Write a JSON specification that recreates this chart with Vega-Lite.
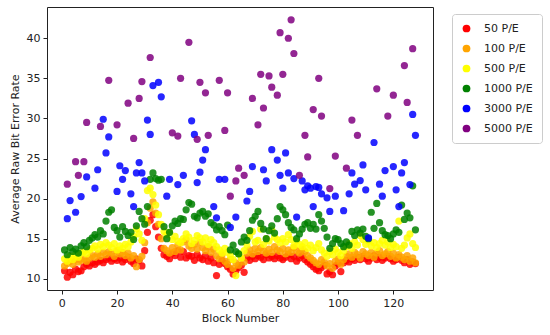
{
"$schema":"https://vega.github.io/schema/vega-lite/v6.json",
"width":386,"height":283,
"autosize":{"type":"none"},
"padding":{"left":47,"top":7,"right":117,"bottom":45},
"background":"white",
"config":{"font":"DejaVu Sans","view":{"stroke":"#222","strokeWidth":1}},
"datasets":{"r":[
{"b":1,"s":"50 P/E","v":11.0},{"b":2,"s":"50 P/E","v":10.2},{"b":3,"s":"50 P/E","v":10.8},{"b":4,"s":"50 P/E","v":10.5},{"b":5,"s":"50 P/E","v":11.2},{"b":6,"s":"50 P/E","v":10.9},{"b":7,"s":"50 P/E","v":11.0},{"b":8,"s":"50 P/E","v":11.5},{"b":9,"s":"50 P/E","v":11.8},{"b":10,"s":"50 P/E","v":11.6},
{"b":11,"s":"50 P/E","v":12.0},{"b":12,"s":"50 P/E","v":11.8},{"b":13,"s":"50 P/E","v":12.1},{"b":14,"s":"50 P/E","v":12.3},{"b":15,"s":"50 P/E","v":12.0},{"b":16,"s":"50 P/E","v":12.4},{"b":17,"s":"50 P/E","v":12.6},{"b":18,"s":"50 P/E","v":12.2},{"b":19,"s":"50 P/E","v":12.5},{"b":20,"s":"50 P/E","v":12.3},
{"b":21,"s":"50 P/E","v":12.6},{"b":22,"s":"50 P/E","v":12.1},{"b":23,"s":"50 P/E","v":12.4},{"b":24,"s":"50 P/E","v":12.7},{"b":25,"s":"50 P/E","v":12.2},{"b":26,"s":"50 P/E","v":11.9},{"b":27,"s":"50 P/E","v":12.5},{"b":28,"s":"50 P/E","v":12.3},{"b":29,"s":"50 P/E","v":11.6},{"b":30,"s":"50 P/E","v":13.5},
{"b":31,"s":"50 P/E","v":15.8},{"b":32,"s":"50 P/E","v":17.3},{"b":33,"s":"50 P/E","v":18.0},{"b":34,"s":"50 P/E","v":16.5},{"b":35,"s":"50 P/E","v":15.2},{"b":36,"s":"50 P/E","v":13.8},{"b":37,"s":"50 P/E","v":13.0},{"b":38,"s":"50 P/E","v":12.8},{"b":39,"s":"50 P/E","v":12.5},{"b":40,"s":"50 P/E","v":13.2},
{"b":41,"s":"50 P/E","v":12.9},{"b":42,"s":"50 P/E","v":13.5},{"b":43,"s":"50 P/E","v":12.7},{"b":44,"s":"50 P/E","v":13.4},{"b":45,"s":"50 P/E","v":12.6},{"b":46,"s":"50 P/E","v":12.9},{"b":47,"s":"50 P/E","v":12.8},{"b":48,"s":"50 P/E","v":12.3},{"b":49,"s":"50 P/E","v":13.0},{"b":50,"s":"50 P/E","v":12.6},
{"b":51,"s":"50 P/E","v":12.4},{"b":52,"s":"50 P/E","v":12.9},{"b":53,"s":"50 P/E","v":12.2},{"b":54,"s":"50 P/E","v":12.6},{"b":55,"s":"50 P/E","v":12.0},{"b":56,"s":"50 P/E","v":10.4},{"b":57,"s":"50 P/E","v":11.8},{"b":58,"s":"50 P/E","v":12.3},{"b":59,"s":"50 P/E","v":11.9},{"b":60,"s":"50 P/E","v":11.5},
{"b":61,"s":"50 P/E","v":11.2},{"b":62,"s":"50 P/E","v":10.6},{"b":63,"s":"50 P/E","v":11.0},{"b":64,"s":"50 P/E","v":11.4},{"b":65,"s":"50 P/E","v":11.7},{"b":66,"s":"50 P/E","v":10.8},{"b":67,"s":"50 P/E","v":12.6},{"b":68,"s":"50 P/E","v":12.3},{"b":69,"s":"50 P/E","v":12.8},{"b":70,"s":"50 P/E","v":12.5},
{"b":71,"s":"50 P/E","v":12.9},{"b":72,"s":"50 P/E","v":12.7},{"b":73,"s":"50 P/E","v":12.4},{"b":74,"s":"50 P/E","v":13.0},{"b":75,"s":"50 P/E","v":12.6},{"b":76,"s":"50 P/E","v":12.8},{"b":77,"s":"50 P/E","v":12.5},{"b":78,"s":"50 P/E","v":12.9},{"b":79,"s":"50 P/E","v":12.6},{"b":80,"s":"50 P/E","v":12.4},
{"b":81,"s":"50 P/E","v":12.7},{"b":82,"s":"50 P/E","v":13.0},{"b":83,"s":"50 P/E","v":12.5},{"b":84,"s":"50 P/E","v":12.8},{"b":85,"s":"50 P/E","v":12.2},{"b":86,"s":"50 P/E","v":12.6},{"b":87,"s":"50 P/E","v":12.9},{"b":88,"s":"50 P/E","v":12.4},{"b":89,"s":"50 P/E","v":12.1},{"b":90,"s":"50 P/E","v":11.8},
{"b":91,"s":"50 P/E","v":11.5},{"b":92,"s":"50 P/E","v":11.2},{"b":93,"s":"50 P/E","v":11.0},{"b":94,"s":"50 P/E","v":11.4},{"b":95,"s":"50 P/E","v":11.7},{"b":96,"s":"50 P/E","v":10.6},{"b":97,"s":"50 P/E","v":10.9},{"b":98,"s":"50 P/E","v":10.5},{"b":99,"s":"50 P/E","v":11.6},{"b":100,"s":"50 P/E","v":11.9},
{"b":101,"s":"50 P/E","v":10.9},{"b":102,"s":"50 P/E","v":12.0},{"b":103,"s":"50 P/E","v":12.3},{"b":104,"s":"50 P/E","v":12.1},{"b":105,"s":"50 P/E","v":12.5},{"b":106,"s":"50 P/E","v":12.3},{"b":107,"s":"50 P/E","v":12.7},{"b":108,"s":"50 P/E","v":12.4},{"b":109,"s":"50 P/E","v":12.8},{"b":110,"s":"50 P/E","v":12.5},
{"b":111,"s":"50 P/E","v":12.2},{"b":112,"s":"50 P/E","v":12.6},{"b":113,"s":"50 P/E","v":12.9},{"b":114,"s":"50 P/E","v":12.4},{"b":115,"s":"50 P/E","v":12.7},{"b":116,"s":"50 P/E","v":12.3},{"b":117,"s":"50 P/E","v":12.6},{"b":118,"s":"50 P/E","v":12.8},{"b":119,"s":"50 P/E","v":12.5},{"b":120,"s":"50 P/E","v":12.2},
{"b":121,"s":"50 P/E","v":12.4},{"b":122,"s":"50 P/E","v":12.7},{"b":123,"s":"50 P/E","v":12.3},{"b":124,"s":"50 P/E","v":12.0},{"b":125,"s":"50 P/E","v":12.4},{"b":126,"s":"50 P/E","v":11.8},{"b":127,"s":"50 P/E","v":12.1},{"b":128,"s":"50 P/E","v":11.9},
{"b":1,"s":"100 P/E","v":11.6},{"b":2,"s":"100 P/E","v":11.9},{"b":3,"s":"100 P/E","v":12.2},{"b":4,"s":"100 P/E","v":11.8},{"b":5,"s":"100 P/E","v":12.4},{"b":6,"s":"100 P/E","v":12.1},{"b":7,"s":"100 P/E","v":12.3},{"b":8,"s":"100 P/E","v":12.5},{"b":9,"s":"100 P/E","v":12.2},{"b":10,"s":"100 P/E","v":12.6},
{"b":11,"s":"100 P/E","v":12.9},{"b":12,"s":"100 P/E","v":12.7},{"b":13,"s":"100 P/E","v":13.1},{"b":14,"s":"100 P/E","v":12.8},{"b":15,"s":"100 P/E","v":13.3},{"b":16,"s":"100 P/E","v":13.0},{"b":17,"s":"100 P/E","v":13.4},{"b":18,"s":"100 P/E","v":13.2},{"b":19,"s":"100 P/E","v":12.8},{"b":20,"s":"100 P/E","v":13.5},
{"b":21,"s":"100 P/E","v":13.1},{"b":22,"s":"100 P/E","v":13.3},{"b":23,"s":"100 P/E","v":12.9},{"b":24,"s":"100 P/E","v":13.2},{"b":25,"s":"100 P/E","v":12.6},{"b":26,"s":"100 P/E","v":12.9},{"b":27,"s":"100 P/E","v":11.5},{"b":28,"s":"100 P/E","v":12.4},{"b":29,"s":"100 P/E","v":12.8},{"b":30,"s":"100 P/E","v":14.5},
{"b":31,"s":"100 P/E","v":17.0},{"b":32,"s":"100 P/E","v":18.8},{"b":33,"s":"100 P/E","v":19.6},{"b":34,"s":"100 P/E","v":18.2},{"b":35,"s":"100 P/E","v":16.8},{"b":36,"s":"100 P/E","v":15.0},{"b":37,"s":"100 P/E","v":13.8},{"b":38,"s":"100 P/E","v":13.5},{"b":39,"s":"100 P/E","v":13.2},{"b":40,"s":"100 P/E","v":13.9},
{"b":41,"s":"100 P/E","v":13.4},{"b":42,"s":"100 P/E","v":14.2},{"b":43,"s":"100 P/E","v":13.6},{"b":44,"s":"100 P/E","v":14.6},{"b":45,"s":"100 P/E","v":14.9},{"b":46,"s":"100 P/E","v":14.1},{"b":47,"s":"100 P/E","v":13.8},{"b":48,"s":"100 P/E","v":14.3},{"b":49,"s":"100 P/E","v":13.7},{"b":50,"s":"100 P/E","v":14.5},
{"b":51,"s":"100 P/E","v":13.9},{"b":52,"s":"100 P/E","v":13.5},{"b":53,"s":"100 P/E","v":14.0},{"b":54,"s":"100 P/E","v":13.3},{"b":55,"s":"100 P/E","v":13.7},{"b":56,"s":"100 P/E","v":12.9},{"b":57,"s":"100 P/E","v":12.5},{"b":58,"s":"100 P/E","v":13.0},{"b":59,"s":"100 P/E","v":12.2},{"b":60,"s":"100 P/E","v":11.8},
{"b":61,"s":"100 P/E","v":12.4},{"b":62,"s":"100 P/E","v":11.3},{"b":63,"s":"100 P/E","v":12.0},{"b":64,"s":"100 P/E","v":11.7},{"b":65,"s":"100 P/E","v":12.6},{"b":66,"s":"100 P/E","v":12.1},{"b":67,"s":"100 P/E","v":13.2},{"b":68,"s":"100 P/E","v":13.6},{"b":69,"s":"100 P/E","v":13.1},{"b":70,"s":"100 P/E","v":13.8},
{"b":71,"s":"100 P/E","v":13.4},{"b":72,"s":"100 P/E","v":13.9},{"b":73,"s":"100 P/E","v":13.5},{"b":74,"s":"100 P/E","v":13.2},{"b":75,"s":"100 P/E","v":13.7},{"b":76,"s":"100 P/E","v":13.3},{"b":77,"s":"100 P/E","v":14.0},{"b":78,"s":"100 P/E","v":13.6},{"b":79,"s":"100 P/E","v":13.4},{"b":80,"s":"100 P/E","v":13.8},
{"b":81,"s":"100 P/E","v":13.1},{"b":82,"s":"100 P/E","v":13.6},{"b":83,"s":"100 P/E","v":13.3},{"b":84,"s":"100 P/E","v":13.9},{"b":85,"s":"100 P/E","v":13.5},{"b":86,"s":"100 P/E","v":13.2},{"b":87,"s":"100 P/E","v":13.7},{"b":88,"s":"100 P/E","v":13.4},{"b":89,"s":"100 P/E","v":12.9},{"b":90,"s":"100 P/E","v":12.6},
{"b":91,"s":"100 P/E","v":12.3},{"b":92,"s":"100 P/E","v":12.0},{"b":93,"s":"100 P/E","v":11.8},{"b":94,"s":"100 P/E","v":12.4},{"b":95,"s":"100 P/E","v":12.1},{"b":96,"s":"100 P/E","v":11.6},{"b":97,"s":"100 P/E","v":11.9},{"b":98,"s":"100 P/E","v":11.3},{"b":99,"s":"100 P/E","v":12.2},{"b":100,"s":"100 P/E","v":12.5},
{"b":101,"s":"100 P/E","v":11.8},{"b":102,"s":"100 P/E","v":12.4},{"b":103,"s":"100 P/E","v":12.8},{"b":104,"s":"100 P/E","v":13.1},{"b":105,"s":"100 P/E","v":12.7},{"b":106,"s":"100 P/E","v":13.3},{"b":107,"s":"100 P/E","v":13.0},{"b":108,"s":"100 P/E","v":12.6},{"b":109,"s":"100 P/E","v":13.4},{"b":110,"s":"100 P/E","v":13.1},
{"b":111,"s":"100 P/E","v":12.9},{"b":112,"s":"100 P/E","v":13.3},{"b":113,"s":"100 P/E","v":12.7},{"b":114,"s":"100 P/E","v":13.2},{"b":115,"s":"100 P/E","v":13.5},{"b":116,"s":"100 P/E","v":12.9},{"b":117,"s":"100 P/E","v":13.1},{"b":118,"s":"100 P/E","v":13.4},{"b":119,"s":"100 P/E","v":12.8},{"b":120,"s":"100 P/E","v":13.2},
{"b":121,"s":"100 P/E","v":12.6},{"b":122,"s":"100 P/E","v":13.0},{"b":123,"s":"100 P/E","v":12.7},{"b":124,"s":"100 P/E","v":12.4},{"b":125,"s":"100 P/E","v":12.9},{"b":126,"s":"100 P/E","v":12.2},{"b":127,"s":"100 P/E","v":12.6},{"b":128,"s":"100 P/E","v":12.0},
{"b":1,"s":"500 P/E","v":12.5},{"b":2,"s":"500 P/E","v":12.2},{"b":3,"s":"500 P/E","v":12.8},{"b":4,"s":"500 P/E","v":12.4},{"b":5,"s":"500 P/E","v":13.0},{"b":6,"s":"500 P/E","v":12.7},{"b":7,"s":"500 P/E","v":13.2},{"b":8,"s":"500 P/E","v":13.4},{"b":9,"s":"500 P/E","v":13.1},{"b":10,"s":"500 P/E","v":13.6},
{"b":11,"s":"500 P/E","v":13.8},{"b":12,"s":"500 P/E","v":14.1},{"b":13,"s":"500 P/E","v":13.7},{"b":14,"s":"500 P/E","v":14.3},{"b":15,"s":"500 P/E","v":14.0},{"b":16,"s":"500 P/E","v":14.5},{"b":17,"s":"500 P/E","v":14.2},{"b":18,"s":"500 P/E","v":13.9},{"b":19,"s":"500 P/E","v":14.4},{"b":20,"s":"500 P/E","v":13.6},
{"b":21,"s":"500 P/E","v":14.1},{"b":22,"s":"500 P/E","v":13.8},{"b":23,"s":"500 P/E","v":14.3},{"b":24,"s":"500 P/E","v":14.0},{"b":25,"s":"500 P/E","v":14.6},{"b":26,"s":"500 P/E","v":15.3},{"b":27,"s":"500 P/E","v":16.2},{"b":28,"s":"500 P/E","v":15.6},{"b":29,"s":"500 P/E","v":14.8},{"b":30,"s":"500 P/E","v":17.5},
{"b":31,"s":"500 P/E","v":21.0},{"b":32,"s":"500 P/E","v":21.3},{"b":33,"s":"500 P/E","v":20.5},{"b":34,"s":"500 P/E","v":19.2},{"b":35,"s":"500 P/E","v":18.0},{"b":36,"s":"500 P/E","v":16.8},{"b":37,"s":"500 P/E","v":15.9},{"b":38,"s":"500 P/E","v":15.5},{"b":39,"s":"500 P/E","v":15.8},{"b":40,"s":"500 P/E","v":14.9},
{"b":41,"s":"500 P/E","v":15.3},{"b":42,"s":"500 P/E","v":14.7},{"b":43,"s":"500 P/E","v":14.5},{"b":44,"s":"500 P/E","v":15.0},{"b":45,"s":"500 P/E","v":15.6},{"b":46,"s":"500 P/E","v":15.2},{"b":47,"s":"500 P/E","v":14.4},{"b":48,"s":"500 P/E","v":14.8},{"b":49,"s":"500 P/E","v":15.4},{"b":50,"s":"500 P/E","v":15.1},
{"b":51,"s":"500 P/E","v":14.6},{"b":52,"s":"500 P/E","v":15.1},{"b":53,"s":"500 P/E","v":14.3},{"b":54,"s":"500 P/E","v":14.9},{"b":55,"s":"500 P/E","v":14.5},{"b":56,"s":"500 P/E","v":14.0},{"b":57,"s":"500 P/E","v":13.6},{"b":58,"s":"500 P/E","v":13.2},{"b":59,"s":"500 P/E","v":13.8},{"b":60,"s":"500 P/E","v":13.3},
{"b":61,"s":"500 P/E","v":12.9},{"b":62,"s":"500 P/E","v":12.4},{"b":63,"s":"500 P/E","v":10.4},{"b":64,"s":"500 P/E","v":13.1},{"b":65,"s":"500 P/E","v":12.6},{"b":66,"s":"500 P/E","v":13.5},{"b":67,"s":"500 P/E","v":14.2},{"b":68,"s":"500 P/E","v":15.3},{"b":69,"s":"500 P/E","v":15.9},{"b":70,"s":"500 P/E","v":14.6},
{"b":71,"s":"500 P/E","v":14.8},{"b":72,"s":"500 P/E","v":16.2},{"b":73,"s":"500 P/E","v":14.3},{"b":74,"s":"500 P/E","v":15.0},{"b":75,"s":"500 P/E","v":14.7},{"b":76,"s":"500 P/E","v":16.1},{"b":77,"s":"500 P/E","v":15.2},{"b":78,"s":"500 P/E","v":14.9},{"b":79,"s":"500 P/E","v":14.5},{"b":80,"s":"500 P/E","v":15.0},
{"b":81,"s":"500 P/E","v":14.6},{"b":82,"s":"500 P/E","v":15.5},{"b":83,"s":"500 P/E","v":14.9},{"b":84,"s":"500 P/E","v":14.1},{"b":85,"s":"500 P/E","v":14.7},{"b":86,"s":"500 P/E","v":14.3},{"b":87,"s":"500 P/E","v":14.0},{"b":88,"s":"500 P/E","v":14.5},{"b":89,"s":"500 P/E","v":13.8},{"b":90,"s":"500 P/E","v":14.2},
{"b":91,"s":"500 P/E","v":13.5},{"b":92,"s":"500 P/E","v":13.9},{"b":93,"s":"500 P/E","v":14.4},{"b":94,"s":"500 P/E","v":13.6},{"b":95,"s":"500 P/E","v":13.2},{"b":96,"s":"500 P/E","v":12.8},{"b":97,"s":"500 P/E","v":13.4},{"b":98,"s":"500 P/E","v":13.0},{"b":99,"s":"500 P/E","v":13.7},{"b":100,"s":"500 P/E","v":13.3},
{"b":101,"s":"500 P/E","v":12.9},{"b":102,"s":"500 P/E","v":13.5},{"b":103,"s":"500 P/E","v":14.0},{"b":104,"s":"500 P/E","v":14.4},{"b":105,"s":"500 P/E","v":13.8},{"b":106,"s":"500 P/E","v":14.6},{"b":107,"s":"500 P/E","v":14.2},{"b":108,"s":"500 P/E","v":15.4},{"b":109,"s":"500 P/E","v":14.9},{"b":110,"s":"500 P/E","v":14.3},
{"b":111,"s":"500 P/E","v":14.7},{"b":112,"s":"500 P/E","v":14.1},{"b":113,"s":"500 P/E","v":14.5},{"b":114,"s":"500 P/E","v":13.9},{"b":115,"s":"500 P/E","v":14.4},{"b":116,"s":"500 P/E","v":14.8},{"b":117,"s":"500 P/E","v":14.2},{"b":118,"s":"500 P/E","v":14.6},{"b":119,"s":"500 P/E","v":13.9},{"b":120,"s":"500 P/E","v":14.3},
{"b":121,"s":"500 P/E","v":14.0},{"b":122,"s":"500 P/E","v":17.2},{"b":123,"s":"500 P/E","v":13.8},{"b":124,"s":"500 P/E","v":14.2},{"b":125,"s":"500 P/E","v":15.1},{"b":126,"s":"500 P/E","v":15.6},{"b":127,"s":"500 P/E","v":14.4},{"b":128,"s":"500 P/E","v":13.9},
{"b":1,"s":"1000 P/E","v":13.6},{"b":2,"s":"1000 P/E","v":13.0},{"b":3,"s":"1000 P/E","v":13.9},{"b":4,"s":"1000 P/E","v":13.4},{"b":5,"s":"1000 P/E","v":13.7},{"b":6,"s":"1000 P/E","v":13.2},{"b":7,"s":"1000 P/E","v":14.1},{"b":8,"s":"1000 P/E","v":14.5},{"b":9,"s":"1000 P/E","v":14.0},{"b":10,"s":"1000 P/E","v":14.8},
{"b":11,"s":"1000 P/E","v":15.1},{"b":12,"s":"1000 P/E","v":15.5},{"b":13,"s":"1000 P/E","v":15.2},{"b":14,"s":"1000 P/E","v":16.0},{"b":15,"s":"1000 P/E","v":15.6},{"b":16,"s":"1000 P/E","v":17.2},{"b":17,"s":"1000 P/E","v":18.3},{"b":18,"s":"1000 P/E","v":18.6},{"b":19,"s":"1000 P/E","v":16.4},{"b":20,"s":"1000 P/E","v":16.0},
{"b":21,"s":"1000 P/E","v":15.2},{"b":22,"s":"1000 P/E","v":16.5},{"b":23,"s":"1000 P/E","v":15.9},{"b":24,"s":"1000 P/E","v":15.4},{"b":25,"s":"1000 P/E","v":15.8},{"b":26,"s":"1000 P/E","v":14.9},{"b":27,"s":"1000 P/E","v":16.6},{"b":28,"s":"1000 P/E","v":18.4},{"b":29,"s":"1000 P/E","v":17.5},{"b":30,"s":"1000 P/E","v":16.8},
{"b":31,"s":"1000 P/E","v":19.0},{"b":32,"s":"1000 P/E","v":22.4},{"b":33,"s":"1000 P/E","v":23.2},{"b":34,"s":"1000 P/E","v":22.5},{"b":35,"s":"1000 P/E","v":22.3},{"b":36,"s":"1000 P/E","v":22.4},{"b":37,"s":"1000 P/E","v":16.5},{"b":38,"s":"1000 P/E","v":15.0},{"b":39,"s":"1000 P/E","v":15.8},{"b":40,"s":"1000 P/E","v":16.6},
{"b":41,"s":"1000 P/E","v":17.2},{"b":42,"s":"1000 P/E","v":16.9},{"b":43,"s":"1000 P/E","v":17.5},{"b":44,"s":"1000 P/E","v":17.4},{"b":45,"s":"1000 P/E","v":18.6},{"b":46,"s":"1000 P/E","v":19.5},{"b":47,"s":"1000 P/E","v":19.3},{"b":48,"s":"1000 P/E","v":17.8},{"b":49,"s":"1000 P/E","v":17.6},{"b":50,"s":"1000 P/E","v":18.2},
{"b":51,"s":"1000 P/E","v":18.4},{"b":52,"s":"1000 P/E","v":17.8},{"b":53,"s":"1000 P/E","v":18.1},{"b":54,"s":"1000 P/E","v":17.0},{"b":55,"s":"1000 P/E","v":16.7},{"b":56,"s":"1000 P/E","v":16.1},{"b":57,"s":"1000 P/E","v":16.5},{"b":58,"s":"1000 P/E","v":16.0},{"b":59,"s":"1000 P/E","v":15.5},{"b":60,"s":"1000 P/E","v":16.7},
{"b":61,"s":"1000 P/E","v":13.6},{"b":62,"s":"1000 P/E","v":14.2},{"b":63,"s":"1000 P/E","v":13.4},{"b":64,"s":"1000 P/E","v":13.1},{"b":65,"s":"1000 P/E","v":14.6},{"b":66,"s":"1000 P/E","v":15.2},{"b":67,"s":"1000 P/E","v":14.8},{"b":68,"s":"1000 P/E","v":16.0},{"b":69,"s":"1000 P/E","v":17.3},{"b":70,"s":"1000 P/E","v":17.8},
{"b":71,"s":"1000 P/E","v":18.4},{"b":72,"s":"1000 P/E","v":16.9},{"b":73,"s":"1000 P/E","v":16.2},{"b":74,"s":"1000 P/E","v":15.0},{"b":75,"s":"1000 P/E","v":16.0},{"b":76,"s":"1000 P/E","v":16.6},{"b":77,"s":"1000 P/E","v":15.7},{"b":78,"s":"1000 P/E","v":17.5},{"b":79,"s":"1000 P/E","v":19.0},{"b":80,"s":"1000 P/E","v":18.6},
{"b":81,"s":"1000 P/E","v":18.0},{"b":82,"s":"1000 P/E","v":17.0},{"b":83,"s":"1000 P/E","v":16.4},{"b":84,"s":"1000 P/E","v":16.1},{"b":85,"s":"1000 P/E","v":15.0},{"b":86,"s":"1000 P/E","v":15.6},{"b":87,"s":"1000 P/E","v":16.2},{"b":88,"s":"1000 P/E","v":16.8},{"b":89,"s":"1000 P/E","v":17.0},{"b":90,"s":"1000 P/E","v":16.3},
{"b":91,"s":"1000 P/E","v":16.8},{"b":92,"s":"1000 P/E","v":16.2},{"b":93,"s":"1000 P/E","v":18.0},{"b":94,"s":"1000 P/E","v":17.2},{"b":95,"s":"1000 P/E","v":16.3},{"b":96,"s":"1000 P/E","v":15.2},{"b":97,"s":"1000 P/E","v":13.8},{"b":98,"s":"1000 P/E","v":14.4},{"b":99,"s":"1000 P/E","v":15.0},{"b":100,"s":"1000 P/E","v":14.9},
{"b":101,"s":"1000 P/E","v":14.4},{"b":102,"s":"1000 P/E","v":14.0},{"b":103,"s":"1000 P/E","v":14.6},{"b":104,"s":"1000 P/E","v":14.2},{"b":105,"s":"1000 P/E","v":15.9},{"b":106,"s":"1000 P/E","v":15.4},{"b":107,"s":"1000 P/E","v":16.1},{"b":108,"s":"1000 P/E","v":15.7},{"b":109,"s":"1000 P/E","v":16.2},{"b":110,"s":"1000 P/E","v":15.3},
{"b":111,"s":"1000 P/E","v":15.0},{"b":112,"s":"1000 P/E","v":18.3},{"b":113,"s":"1000 P/E","v":16.3},{"b":114,"s":"1000 P/E","v":19.4},{"b":115,"s":"1000 P/E","v":17.0},{"b":116,"s":"1000 P/E","v":16.0},{"b":117,"s":"1000 P/E","v":15.5},{"b":118,"s":"1000 P/E","v":15.4},{"b":119,"s":"1000 P/E","v":15.0},{"b":120,"s":"1000 P/E","v":15.6},
{"b":121,"s":"1000 P/E","v":16.1},{"b":122,"s":"1000 P/E","v":15.8},{"b":123,"s":"1000 P/E","v":19.2},{"b":124,"s":"1000 P/E","v":17.4},{"b":125,"s":"1000 P/E","v":18.2},{"b":126,"s":"1000 P/E","v":17.6},{"b":127,"s":"1000 P/E","v":21.6},{"b":128,"s":"1000 P/E","v":16.1},
{"b":2,"s":"3000 P/E","v":17.5},{"b":3,"s":"3000 P/E","v":19.75},{"b":5,"s":"3000 P/E","v":18.3},{"b":7,"s":"3000 P/E","v":20.25},{"b":9,"s":"3000 P/E","v":22.7},{"b":12,"s":"3000 P/E","v":21.3},{"b":13,"s":"3000 P/E","v":23.6},{"b":15,"s":"3000 P/E","v":29.9},{"b":16,"s":"3000 P/E","v":25.7},{"b":17,"s":"3000 P/E","v":27.7},
{"b":20,"s":"3000 P/E","v":20.9},{"b":21,"s":"3000 P/E","v":24.1},{"b":22,"s":"3000 P/E","v":22.4},{"b":23,"s":"3000 P/E","v":23.5},{"b":25,"s":"3000 P/E","v":20.6},{"b":26,"s":"3000 P/E","v":19.0},{"b":27,"s":"3000 P/E","v":23.2},{"b":28,"s":"3000 P/E","v":24.5},{"b":29,"s":"3000 P/E","v":23.2},{"b":30,"s":"3000 P/E","v":22.2},
{"b":31,"s":"3000 P/E","v":29.8},{"b":32,"s":"3000 P/E","v":28.0},{"b":33,"s":"3000 P/E","v":34.1},{"b":35,"s":"3000 P/E","v":34.5},{"b":36,"s":"3000 P/E","v":32.7},{"b":38,"s":"3000 P/E","v":20.3},{"b":39,"s":"3000 P/E","v":22.4},{"b":42,"s":"3000 P/E","v":21.75},{"b":44,"s":"3000 P/E","v":22.9},{"b":47,"s":"3000 P/E","v":29.7},
{"b":48,"s":"3000 P/E","v":28.0},{"b":49,"s":"3000 P/E","v":22.0},{"b":50,"s":"3000 P/E","v":23.3},{"b":51,"s":"3000 P/E","v":24.8},{"b":52,"s":"3000 P/E","v":26.1},{"b":55,"s":"3000 P/E","v":19.0},{"b":56,"s":"3000 P/E","v":17.6},{"b":57,"s":"3000 P/E","v":22.4},{"b":59,"s":"3000 P/E","v":22.4},{"b":61,"s":"3000 P/E","v":16.4},
{"b":63,"s":"3000 P/E","v":17.7},{"b":67,"s":"3000 P/E","v":19.7},{"b":68,"s":"3000 P/E","v":20.9},{"b":69,"s":"3000 P/E","v":24.0},{"b":73,"s":"3000 P/E","v":23.6},{"b":74,"s":"3000 P/E","v":22.2},{"b":76,"s":"3000 P/E","v":26.1},{"b":78,"s":"3000 P/E","v":24.8},{"b":79,"s":"3000 P/E","v":22.9},{"b":80,"s":"3000 P/E","v":21.3},
{"b":81,"s":"3000 P/E","v":25.7},{"b":82,"s":"3000 P/E","v":23.2},{"b":84,"s":"3000 P/E","v":22.5},{"b":85,"s":"3000 P/E","v":17.7},{"b":87,"s":"3000 P/E","v":22.2},{"b":88,"s":"3000 P/E","v":21.1},{"b":89,"s":"3000 P/E","v":21.6},{"b":90,"s":"3000 P/E","v":21.3},{"b":91,"s":"3000 P/E","v":19.0},{"b":92,"s":"3000 P/E","v":21.5},
{"b":93,"s":"3000 P/E","v":21.4},{"b":94,"s":"3000 P/E","v":20.6},{"b":96,"s":"3000 P/E","v":20.1},{"b":97,"s":"3000 P/E","v":18.4},{"b":99,"s":"3000 P/E","v":20.3},{"b":102,"s":"3000 P/E","v":18.5},{"b":104,"s":"3000 P/E","v":20.6},{"b":105,"s":"3000 P/E","v":23.2},{"b":106,"s":"3000 P/E","v":21.8},{"b":108,"s":"3000 P/E","v":22.25},
{"b":109,"s":"3000 P/E","v":24.2},{"b":110,"s":"3000 P/E","v":21.1},{"b":111,"s":"3000 P/E","v":15.1},{"b":113,"s":"3000 P/E","v":27.0},{"b":115,"s":"3000 P/E","v":21.8},{"b":116,"s":"3000 P/E","v":20.3},{"b":117,"s":"3000 P/E","v":23.5},{"b":120,"s":"3000 P/E","v":24.0},{"b":121,"s":"3000 P/E","v":21.1},{"b":122,"s":"3000 P/E","v":19.0},
{"b":123,"s":"3000 P/E","v":23.2},{"b":124,"s":"3000 P/E","v":24.5},{"b":126,"s":"3000 P/E","v":21.75},{"b":127,"s":"3000 P/E","v":30.5},{"b":128,"s":"3000 P/E","v":27.9},
{"b":2,"s":"5000 P/E","v":21.8},{"b":5,"s":"5000 P/E","v":24.6},{"b":6,"s":"5000 P/E","v":22.9},{"b":8,"s":"5000 P/E","v":24.6},{"b":9,"s":"5000 P/E","v":29.5},{"b":14,"s":"5000 P/E","v":29.0},{"b":17,"s":"5000 P/E","v":34.75},{"b":20,"s":"5000 P/E","v":29.2},{"b":24,"s":"5000 P/E","v":31.9},{"b":26,"s":"5000 P/E","v":27.5},
{"b":28,"s":"5000 P/E","v":32.5},{"b":29,"s":"5000 P/E","v":34.6},{"b":32,"s":"5000 P/E","v":37.6},{"b":40,"s":"5000 P/E","v":28.2},{"b":42,"s":"5000 P/E","v":27.8},{"b":43,"s":"5000 P/E","v":35.0},{"b":46,"s":"5000 P/E","v":39.5},{"b":49,"s":"5000 P/E","v":27.4},{"b":50,"s":"5000 P/E","v":34.5},{"b":52,"s":"5000 P/E","v":33.2},
{"b":53,"s":"5000 P/E","v":27.9},{"b":57,"s":"5000 P/E","v":34.75},{"b":59,"s":"5000 P/E","v":28.5},{"b":60,"s":"5000 P/E","v":33.2},{"b":61,"s":"5000 P/E","v":20.3},{"b":63,"s":"5000 P/E","v":22.2},{"b":64,"s":"5000 P/E","v":23.8},{"b":66,"s":"5000 P/E","v":22.9},{"b":69,"s":"5000 P/E","v":32.5},{"b":71,"s":"5000 P/E","v":29.2},
{"b":72,"s":"5000 P/E","v":35.5},{"b":73,"s":"5000 P/E","v":31.3},{"b":75,"s":"5000 P/E","v":35.3},{"b":76,"s":"5000 P/E","v":33.9},{"b":78,"s":"5000 P/E","v":32.9},{"b":79,"s":"5000 P/E","v":40.7},{"b":80,"s":"5000 P/E","v":35.5},{"b":82,"s":"5000 P/E","v":40.0},{"b":83,"s":"5000 P/E","v":42.3},{"b":84,"s":"5000 P/E","v":38.1},
{"b":86,"s":"5000 P/E","v":22.9},{"b":88,"s":"5000 P/E","v":27.9},{"b":89,"s":"5000 P/E","v":25.2},{"b":91,"s":"5000 P/E","v":31.1},{"b":93,"s":"5000 P/E","v":35.0},{"b":94,"s":"5000 P/E","v":30.3},{"b":97,"s":"5000 P/E","v":21.25},{"b":99,"s":"5000 P/E","v":25.3},{"b":103,"s":"5000 P/E","v":23.8},{"b":105,"s":"5000 P/E","v":29.8},
{"b":107,"s":"5000 P/E","v":27.9},{"b":114,"s":"5000 P/E","v":33.7},{"b":118,"s":"5000 P/E","v":30.3},{"b":120,"s":"5000 P/E","v":32.9},{"b":124,"s":"5000 P/E","v":36.6},{"b":125,"s":"5000 P/E","v":32.0},{"b":127,"s":"5000 P/E","v":38.7}
]},
"data":{"name":"r"},
"mark":{"type":"circle","size":52,"opacity":0.85},
"encoding":{
"x":{"field":"b","type":"quantitative","title":"Block Number","scale":{"domain":[-5.35,134.35],"nice":false,"zero":false},
 "axis":{"values":[0,20,40,60,80,100,120],"grid":false,"domain":false,"tickColor":"#222","tickSize":4,"labelFontSize":11,"labelColor":"#222","labelPadding":3,"titleFontSize":11,"titleFontWeight":"normal","titleColor":"#222","titlePadding":4}},
"y":{"field":"v","type":"quantitative","title":"Average Raw Bit Error Rate","scale":{"domain":[8.6,43.9],"nice":false,"zero":false},
 "axis":{"values":[10,15,20,25,30,35,40],"grid":false,"domain":false,"tickColor":"#222","tickSize":4,"labelFontSize":11,"labelColor":"#222","labelPadding":3,"titleFontSize":11,"titleFontWeight":"normal","titleColor":"#222","titlePadding":6}},
"color":{"field":"s","type":"nominal","title":null,
 "scale":{"domain":["50 P/E","100 P/E","500 P/E","1000 P/E","3000 P/E","5000 P/E"],"range":["#ff0000","#ffa500","#ffff00","#008000","#0000ff","#800080"]},
 "legend":{"orient":"none","legendX":405,"legendY":7,"symbolType":"circle","symbolSize":60,"symbolOpacity":1,"symbolStrokeWidth":0,"labelFontSize":11,"labelColor":"#222","padding":9,"rowPadding":8,"labelOffset":12,"strokeColor":"#cccccc","fillColor":"white","cornerRadius":3}}
}
}
